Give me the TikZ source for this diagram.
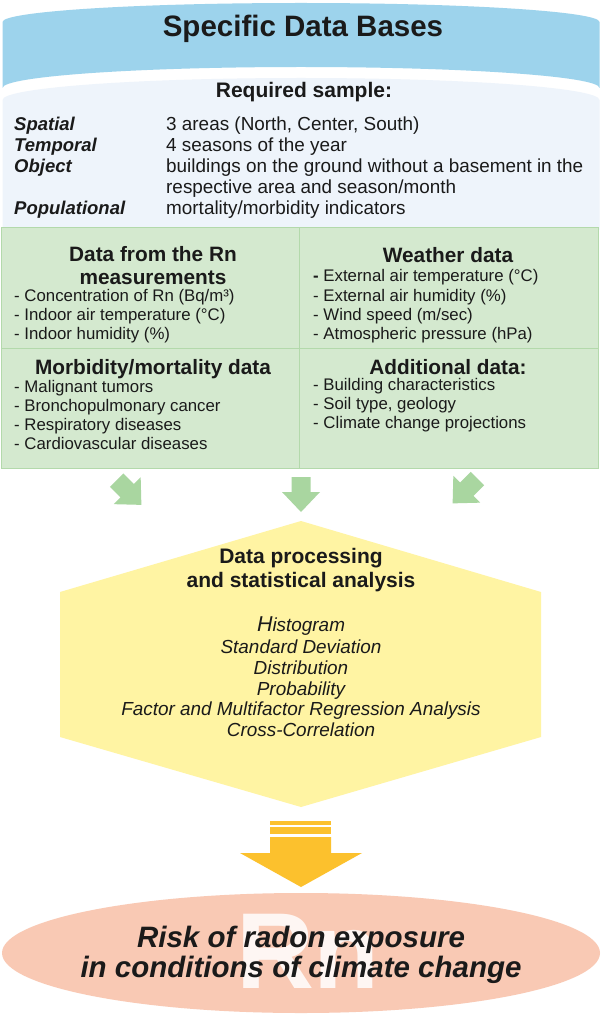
\documentclass[tikz,border=0pt]{standalone}
\usepackage{fontspec}
\setmainfont{Liberation Sans}
\usetikzlibrary{shapes.geometric}
\definecolor{topblue}{HTML}{9DD3EC}
\definecolor{paleblue}{HTML}{EEF4FB}
\definecolor{cellgreen}{HTML}{D4E9CF}
\definecolor{cellline}{HTML}{B3D9AB}
\definecolor{arrowgreen}{HTML}{A9D6A0}
\definecolor{hexyellow}{HTML}{FFF4A3}
\definecolor{gold}{HTML}{FCC12D}
\definecolor{salmon}{HTML}{F9C9B4}
\definecolor{textdark}{HTML}{1A1A1A}
\begin{document}
\begin{tikzpicture}[x=1pt,y=-1pt]
\tikzset{
  txt/.style={inner sep=0pt, text=textdark},
  bigtitle/.style={txt, font=\fontsize{29.5}{34}\selectfont\bfseries},
  subtitle/.style={txt, font=\fontsize{21}{24}\selectfont\bfseries},
  lbl/.style={txt, anchor=mid west, font=\fontsize{18.5}{21}\selectfont\bfseries\itshape},
  val/.style={txt, anchor=mid west, font=\fontsize{18.9}{21}\selectfont},
  cellhead/.style={txt, align=center, font=\fontsize{20.8}{23}\selectfont\bfseries},
  item/.style={txt, anchor=mid west, font=\fontsize{16.8}{19}\selectfont},
  stat/.style={txt, anchor=mid, font=\fontsize{18.9}{21}\selectfont\itshape},
  risktext/.style={txt, align=center, font=\fontsize{29.5}{30}\selectfont\bfseries\itshape},
  garrow/.pic={\fill[arrowgreen] (-9.5,-17.5) -- (9.5,-17.5) -- (9.5,-2.5) -- (19,-2.5) -- (0,17.5) -- (-19,-2.5) -- (-9.5,-2.5) -- cycle;}
}
\useasboundingbox (0,0) rectangle (601,1016);
\fill[white] (0,0) rectangle (601,1016);

% pale body of the data base
\fill[paleblue] (2.5,100) .. controls (2.5,87.8) and (136.1,78) .. (301,78) .. controls (465.9,78) and (599.5,87.8) .. (599.5,100) -- (599.5,230) -- (2.5,230) -- cycle;
% blue top
\fill[topblue] (2.5,22) .. controls (2.5,11.5) and (136.1,3) .. (301,3) .. controls (465.9,3) and (599.5,11.5) .. (599.5,22) -- (599.5,88) .. controls (599.5,76.4) and (465.9,67) .. (301,67) .. controls (136.1,67) and (2.5,76.4) .. (2.5,88) -- cycle;

\node[bigtitle] (title) at (303,29) {Specific Data Bases};
\node[subtitle] (req) at (304,92) {Required sample:};

\node[lbl] (l1) at (14,128) {Spatial};
\node[lbl] (l2) at (14,149) {Temporal};
\node[lbl] (l3) at (14,170) {Object};
\node[lbl] (l4) at (14,212) {Populational};
\node[val] (v1) at (166,128) {3 areas (North, Center, South)};
\node[val] (v2) at (166,149) {4 seasons of the year};
\node[val] (v3) at (166,170) {buildings on the ground without a basement in the};
\node[val] (v3b) at (166,191) {respective area and season/month};
\node[val] (v4) at (166,212) {mortality/morbidity indicators};

% green grid
\filldraw[fill=cellgreen, draw=cellline, line width=1pt] (1,228) rectangle (598,468);
\draw[cellline, line width=1pt] (299.5,228) -- (299.5,468);
\draw[cellline, line width=1pt] (1,348.5) -- (598,348.5);

\node[cellhead] (h1) at (153,265.5) {Data from the Rn\\measurements};
\node[item] (a1) at (14,299) {- Concentration of Rn (Bq/m³)};
\node[item] (a2) at (14,318) {- Indoor air temperature (°C)};
\node[item] (a3) at (14,337) {- Indoor humidity (\%)};

\node[cellhead] (h2) at (448,255) {Weather data};
\node[item] (b1) at (313,279) {\textbf{-} External air temperature (°C)};
\node[item] (b2) at (313,299) {- External air humidity (\%)};
\node[item] (b3) at (313,318) {- Wind speed (m/sec)};
\node[item] (b4) at (313,337) {- Atmospheric pressure (hPa)};

\node[cellhead] (h3) at (153,369) {Morbidity/mortality data};
\node[item] (c1) at (14,390) {- Malignant tumors};
\node[item] (c2) at (14,409) {- Bronchopulmonary cancer};
\node[item] (c3) at (14,428) {- Respiratory diseases};
\node[item] (c4) at (14,447) {- Cardiovascular diseases};

\node[cellhead] (h4) at (448,367) {Additional data:};
\node[item] (d1) at (313,388) {- Building characteristics};
\node[item] (d2) at (313,407) {- Soil type, geology};
\node[item] (d3) at (313,426) {- Climate change projections};

% green block arrows
\pic[rotate=45] at (129,492.5) {garrow};
\pic at (301,494.5) {garrow};
\pic[rotate=-45] at (465,491) {garrow};

% hexagon
\fill[hexyellow] (301,521) -- (541,592) -- (541,737) -- (301,807) -- (60,737) -- (60,592) -- cycle;
\node[subtitle, align=center] (proc) at (301,570) {Data processing\\and statistical analysis};
\node[stat] (s1) at (301,629) {{\fontsize{21.5}{22}\selectfont H}istogram};
\node[stat] (s2) at (301,651) {Standard Deviation};
\node[stat] (s3) at (301,672) {Distribution};
\node[stat] (s4) at (301,693) {Probability};
\node[stat] (s5) at (301,713) {Factor and Multifactor Regression Analysis};
\node[stat] (s6) at (301,734) {Cross-Correlation};

% gold arrow
\fill[gold] (270,821) rectangle (331,825);
\fill[gold] (270,827) rectangle (331,834);
\fill[gold] (270,837) -- (331,837) -- (331,853) -- (362,853) -- (301,887) -- (240,853) -- (270,853) -- cycle;

% result ellipse
\node[ellipse, fill=salmon, minimum width=598pt, minimum height=120pt, inner sep=0pt] (res) at (301,953) {};
\node[inner sep=0pt, text=white, text opacity=0.85, font=\fontsize{108}{110}\selectfont\bfseries] (rn) at (308,951) {Rn};
\node[risktext] (risk) at (301,955) {Risk of radon exposure\\in conditions of climate change};
\end{tikzpicture}
\end{document}
